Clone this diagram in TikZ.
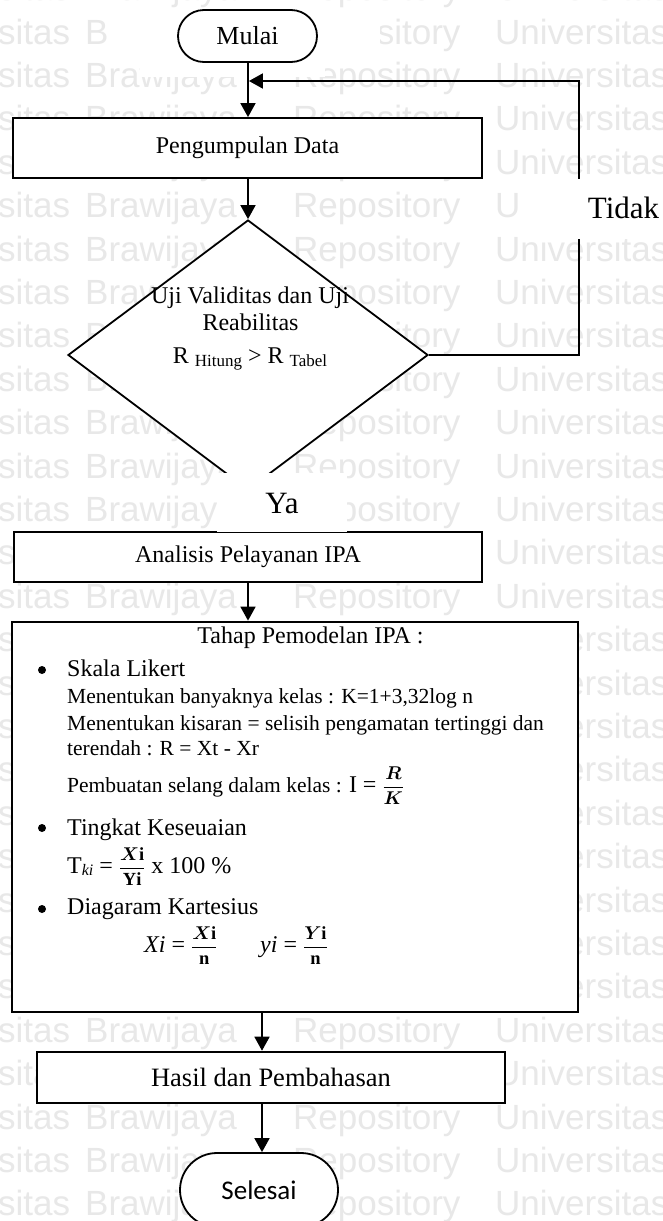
\documentclass[tikz,border=0pt]{standalone}
\usepackage{fix-cm}
\usepackage{fontspec}
\usepackage{bm}
\setmainfont{Liberation Serif}
\newfontfamily\wmfont{Liberation Sans}
\newfontfamily\endfont{Carlito}
\usetikzlibrary{arrows.meta,shapes.geometric,calc}
\newcommand\setpx[1]{\fontsize{#1pt}{#1pt}\selectfont}

\begin{document}
\begin{tikzpicture}[x=1pt,y=-1pt,
  arr/.style={line width=1.8pt,-{Triangle[length=14pt,width=15pt]}},
  box/.style={draw,line width=1.8pt,fill=white,rectangle,inner sep=0pt},
  term/.style={draw,line width=1.8pt,fill=white,rectangle,inner sep=0pt},
  wm/.style={text=black!9,font=\wmfont\setpx{35},anchor=base west,inner sep=0pt},
  lbl/.style={inner sep=0pt},
  item/.style={inner sep=0pt,anchor=base west,font=\setpx{21.5}},
  head/.style={inner sep=0pt,anchor=base west,font=\setpx{24}},
  dot/.style={circle,fill=black,inner sep=0pt,minimum size=8pt},
]
\useasboundingbox (0,0) rectangle (663,1221);
\fill[white] (0,0) rectangle (663,1221);

% repository watermark rows
\foreach \n in {-1,...,27}{
  \pgfmathsetmacro\yb{44+43.4*\n}
  \node[wm] (wma\n) at (-2,\yb) {sitas};
  \node[wm] (wmb\n) at (85,\yb) {Brawijaya};
  \node[wm] (wmc\n) at (293,\yb) {Repository};
  \node[wm] (wmd\n) at (495,\yb) {Universitas};
}
\fill[white] (110,14) rectangle (380,62);
\fill[white] (140,62) rectangle (325,77);

% flowchart steps
\node[term,rounded corners=26pt,minimum width=139pt,minimum height=52pt,font=\setpx{26}] (mulai) at (247.5,36) {Mulai};
\node[box,minimum width=469pt,minimum height=60pt,font=\setpx{24}] (kumpul) at (247.5,148) {Pengumpulan Data};
\node[diamond,draw,fill=white,line width=1.8pt,inner sep=0pt,minimum width=360pt,minimum height=270pt] (uji) at (248,355) {};
\node[lbl,anchor=base,font=\setpx{24}] (uji1) at (250,303) {Uji Validitas dan Uji};
\node[lbl,anchor=base,font=\setpx{24}] (uji2) at (250.5,330) {Reabilitas};
\node[lbl,anchor=base,font=\setpx{24}] (uji3) at (250,363) {R {\setpx{17}\raisebox{-3pt}{Hitung}} > R {\setpx{17}\raisebox{-3pt}{Tabel}}};
\node[box,minimum width=468pt,minimum height=50pt,font=\setpx{24}] (analisis) at (248,557) {Analisis Pelayanan IPA};
\node[box,line width=2.8pt,minimum width=566pt,minimum height=390pt] (tahap) at (295,817) {};
\node[box,line width=2.6pt,minimum width=468pt,minimum height=51pt,font=\setpx{26.5}] (hasil) at (271,1077.5) {Hasil dan Pembahasan};
\node[term,rounded corners=37pt,minimum width=158pt,minimum height=74pt,font=\endfont\setpx{27}] (selesai) at (259,1190) {Selesai};

% contents of the IPA modelling step
\node[lbl,anchor=base,font=\setpx{24}] (t0) at (310.5,643) {Tahap Pemodelan IPA :};
\node[dot] (b1) at (42,670) {};
\node[head] (t1) at (67,676) {Skala Likert};
\node[item] (t2) at (67,703) {Menentukan banyaknya kelas : K=1+3,32log n};
\node[item] (t3) at (67,730) {Menentukan kisaran = selisih pengamatan tertinggi dan};
\node[item] (t4) at (67,755) {terendah : R = Xt - Xr};
\node[item] (t5) at (67,792) {Pembuatan selang dalam kelas : {\setpx{24}I = }{\setpx{18.5}$\displaystyle\frac{\bm{R}}{\bm{K}}$}};
\node[dot] (b2) at (42,828) {};
\node[head] (t6) at (67,835) {Tingkat Keseuaian};
\node[head] (t7) at (67,873) {T{\setpx{16}\itshape\raisebox{-2pt}{ki}} = {\setpx{18.5}$\displaystyle\frac{\bm{X}\mathbf{i}}{\mathbf{Yi}}$} x 100 \%};
\node[dot] (b3) at (42,909) {};
\node[head] (t8) at (67,914) {Diagaram Kartesius};
\node[head] (t9) at (144,952) {\textit{Xi} = {\setpx{18.5}$\displaystyle\frac{\bm{X}\mathbf{i}}{\mathbf{n}}$}};
\node[head] (t10) at (260,952) {\textit{yi} = {\setpx{18.5}$\displaystyle\frac{\bm{Y}\mathbf{i}}{\mathbf{n}}$}};

% connectors
\coordinate (c0) at (248,0);
\coordinate (c1) at (262,0);
\coordinate (join) at (248,81);
\draw[arr] (mulai.south -| c0) -- (kumpul.north -| c0);
\draw[arr] (kumpul.south -| c0) -- (uji.north);
\draw[arr,shorten >=0.9pt] (uji.east) -- ++(150,0) |- (join);
\draw[arr] (uji.south) -- (analisis.north -| uji.south);
\draw[arr] (analisis.south -| c0) -- (tahap.north -| c0);
\draw[arr] (tahap.south -| c1) -- (hasil.north -| c1);
\draw[arr] (hasil.south -| c1) -- (selesai.north -| c1);

% decision labels
\fill[white] (520,179) rectangle (663,239);
\node[lbl,font=\setpx{31}] (tidak) at (623.5,208) {Tidak};
\node[fill=white,inner sep=0pt,minimum width=130pt,minimum height=59pt,text height=21pt,text depth=0pt,font=\setpx{31}] (ya) at (282,502.5) {Ya};
\end{tikzpicture}
\end{document}
